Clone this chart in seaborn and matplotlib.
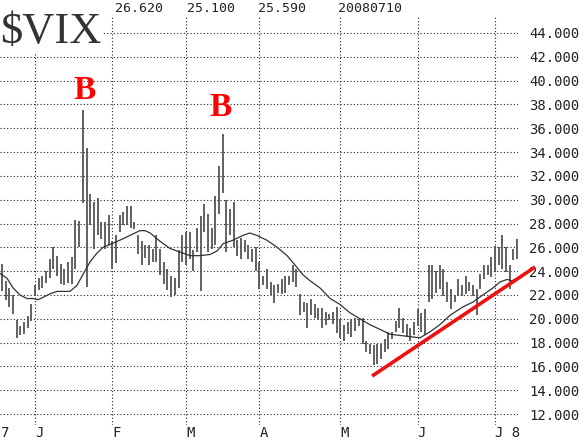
import matplotlib
matplotlib.use('Agg')
import matplotlib.pyplot as plt
import seaborn as sns
import pandas as pd

sns.set_style('white')
plt.rcParams['font.family'] = ['DejaVu Sans Mono', 'DejaVu Sans']

# trading-day index (0 = 2 Jan 2008)
day_index = list(range(-9, 132))
high = [24.6, 23.2, 22.6, 22.0, 19.9, 19.4, 19.7, 20.2, 21.2,
        22.8, 23.4, 23.6, 24.0, 25.0, 26.0, 25.3, 24.6, 24.2, 24.8,
        25.2, 28.3, 28.2, 37.5, 34.3, 30.5, 29.8, 30.1, 28.1, 28.1,
        28.7, 26.5, 27.0, 28.7, 29.0, 29.5, 29.5, 28.1, 27.0, 26.5,
        26.2, 26.2, 25.9, 27.0, 25.9, 24.8, 24.2, 23.6, 23.4, 25.8,
        27.0, 27.3, 27.3, 25.8, 27.6, 28.6, 29.6, 28.8, 27.6, 30.3,
        32.8, 35.5, 30.0, 29.2, 29.8, 26.6, 26.8, 26.6, 26.2, 25.9,
        26.0, 24.8, 23.6, 24.2, 23.1, 22.8, 22.9, 23.3, 23.6, 23.6,
        24.5, 24.2, 22.1, 21.4, 21.3, 21.7, 21.2, 20.9, 20.9, 20.6,
        20.4, 20.6, 21.0, 20.0, 19.5, 19.7, 20.0, 20.1, 20.0, 20.1,
        18.1, 17.9, 17.8, 17.9, 17.9, 18.3, 18.9, 18.9, 19.8, 20.9,
        20.1, 19.6, 19.2, 19.7, 20.8, 20.5, 20.8, 24.5, 24.5, 24.0,
        24.5, 24.2, 23.1, 22.5, 22.0, 23.3, 22.8, 23.6, 23.1, 22.8,
        22.5, 23.8, 24.5, 24.5, 25.2, 26.1, 26.0, 27.0, 26.0, 24.5,
        25.9, 26.7]
low = [22.3, 21.6, 21.0, 20.4, 18.4, 18.6, 18.7, 19.2, 19.8,
       21.9, 22.4, 22.6, 23.0, 23.4, 24.2, 23.6, 22.9, 22.8, 23.0,
       22.9, 24.2, 26.0, 29.7, 22.7, 27.9, 25.9, 27.0, 26.7, 25.9,
       26.2, 24.2, 24.7, 27.3, 27.9, 27.9, 27.6, 27.5, 25.4, 24.5,
       25.1, 24.5, 24.8, 24.8, 23.7, 22.9, 22.4, 21.8, 22.0, 22.6,
       24.8, 24.5, 25.0, 24.0, 25.6, 22.3, 27.3, 25.6, 25.9, 26.2,
       28.8, 30.6, 25.6, 27.0, 26.0, 25.3, 25.0, 25.6, 25.0, 24.8,
       24.0, 22.5, 22.8, 22.5, 22.0, 21.3, 22.2, 22.1, 22.2, 22.8,
       23.1, 22.7, 20.3, 20.6, 19.2, 20.3, 20.1, 19.9, 19.2, 19.5,
       19.9, 19.6, 18.8, 18.4, 18.1, 18.7, 18.5, 19.0, 19.4, 17.9,
       17.2, 17.0, 16.1, 16.2, 16.6, 17.2, 17.5, 18.3, 18.9, 19.2,
       18.8, 18.5, 18.1, 18.6, 19.4, 18.9, 18.6, 21.4, 21.7, 22.2,
       22.5, 21.9, 21.4, 20.8, 21.4, 21.9, 21.9, 22.1, 22.3, 21.9,
       20.3, 22.5, 23.3, 23.7, 23.5, 23.9, 24.5, 24.2, 23.9, 22.5,
       24.9, 25.0]

# moving average
ma_x = [-9.5, -7.6, -6.0, -4.1, -2.2, -0.5, 0.8, 2.2, 4.1, 6.0, 9.5, 11.4, 13.0,
        15.0, 16.8, 18.5, 20.9, 23.1, 25.8, 28.5, 29.9, 31.3, 34.0, 36.7, 39.4,
        42.1, 44.8, 47.6, 49.5, 51.1, 53.8, 56.5, 58.4, 60.3, 63.0, 65.8, 68.5,
        70.7, 72.8, 74.7, 77.4, 80.2, 82.9, 85.6, 88.3, 91.0, 93.8, 96.5, 99.2,
        101.9, 104.6, 107.3, 110.0, 112.8, 116.3, 119.0, 121.7, 124.5, 126.4,
        128.3, 129.6, 130.7]
ma_y = [23.8, 23.4, 22.6, 22.0, 21.7, 21.7, 21.6, 21.8, 22.1, 22.3, 22.3, 22.8, 23.7,
        24.8, 25.5, 26.0, 26.3, 26.6, 27.0, 27.4, 27.4, 27.2, 26.5, 25.9, 25.6,
        25.3, 25.3, 25.4, 25.7, 26.3, 26.6, 27.0, 27.2, 27.0, 26.6, 26.0, 25.3,
        24.5, 23.7, 23.2, 22.6, 21.7, 21.2, 20.5, 20.0, 19.5, 19.1, 18.7, 18.6,
        18.5, 18.4, 18.9, 19.5, 20.3, 21.0, 21.4, 22.0, 22.6, 23.1,
        23.3, 23.2, 23.3]

month_pos = [0, 21, 41, 61, 83, 104, 125]
month_labels = ['J', 'F', 'M', 'A', 'M', 'J', 'J 8']
y_ticks = list(range(12, 46, 2))
header_values = ['26.620', '25.100', '25.590', '20080710']
header_px = [115, 187, 258, 338]
buy_x = [13.6, 50.3]
buy_y = [38.47, 37.04]
trend_x = [91.6, 135.9]
trend_y = [15.19, 24.35]

W, H = 588, 441
fig = plt.figure(figsize=(W / 100, H / 100), dpi=100)
ax = fig.add_axes([0, 16 / H, 518 / W, 408 / H])

ax.vlines(day_index, low, high, color='#555555', lw=1.3, zorder=3)
sns.lineplot(x=ma_x, y=ma_y, ax=ax, color='#333333', lw=0.9, sort=False,
             estimator=None, zorder=4)
ax.plot(trend_x, trend_y, color='#ee1111', lw=2.6, solid_capstyle='butt',
        clip_on=False, zorder=5)

for bx, by in zip(buy_x, buy_y):
    ax.text(bx, by, 'B', color='#ff0000', fontsize=24, fontweight='bold',
            family='Liberation Serif', ha='center', va='baseline', zorder=6)

ax.set_xlim(-9.51, 131.25)
ax.set_ylim(11.08, 45.34)
ax.set_xticks(month_pos)
ax.set_xticklabels(month_labels, ha='left')
ax.set_yticks(y_ticks)
ax.set_yticklabels([f'{v:.3f}' for v in y_ticks])
ax.yaxis.tick_right()
ax.tick_params(axis='y', length=0, pad=8, labelsize=10, labelcolor='#222222')
ax.tick_params(axis='x', length=0, pad=1, labelsize=10, labelcolor='#222222')
ax.grid(True, color='#222222', linestyle=(0, (1, 2)), linewidth=0.8, zorder=0)
ax.set_axisbelow(True)
for s in ax.spines.values():
    s.set_visible(False)
ax.set_xlabel('')
ax.set_ylabel('')

fig.text(1 / W, 1 - 426 / H, '7', fontsize=10, color='#222222', va='top', ha='left')
for txt, px in zip(header_values, header_px):
    fig.text(px / W, 1 - 8 / H, txt, fontsize=9.5, color='#222222', va='center', ha='left')

fig.text(0, 1 - 43 / H, '$VIX', family='Liberation Serif', fontsize=32,
         color='#333333', va='baseline', ha='left', zorder=10,
         bbox=dict(facecolor='white', edgecolor='none', pad=1))

fig.savefig('out.png', dpi=100)
